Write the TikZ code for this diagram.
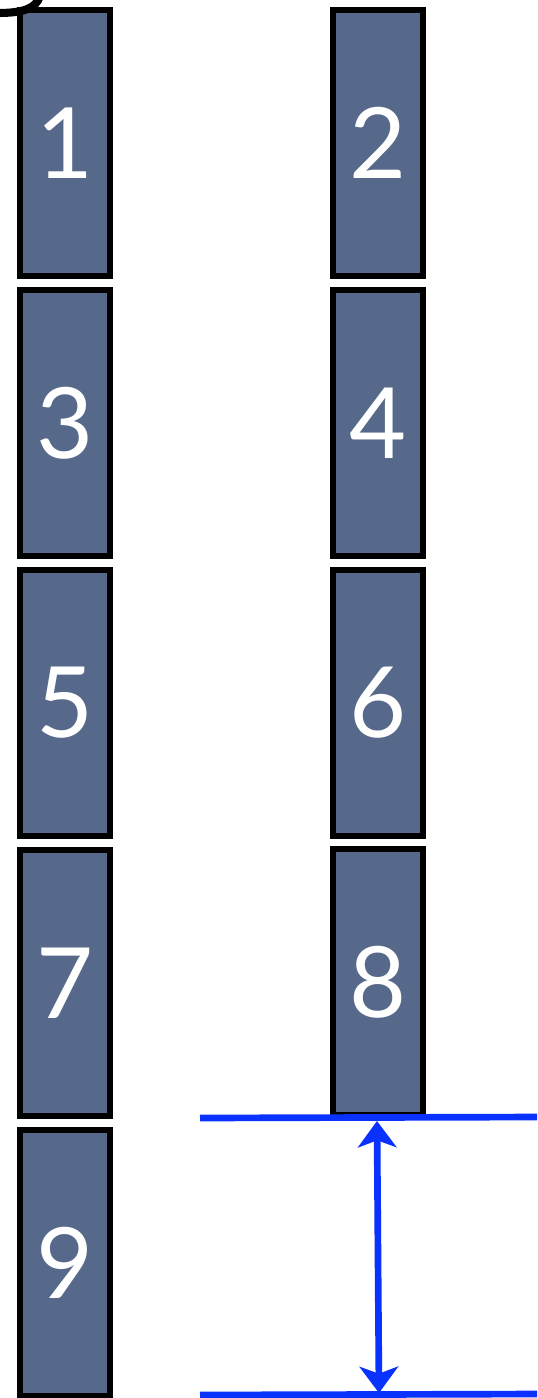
\documentclass[tikz,border=0pt]{standalone}
\usepackage{fontspec}
\setsansfont{Lato}
\usetikzlibrary{arrows.meta}
\definecolor{slab}{HTML}{56698A}
\definecolor{gapblue}{HTML}{0A32FF}

\begin{document}
\begin{tikzpicture}[x=0.02cm, y=-0.02cm,
		panel/.style={draw=black, line width=3.2pt, fill=slab, text=white,
			minimum width=1.80cm, minimum height=5.32cm, inner sep=0pt,
			font=\sffamily\fontsize{56}{56}\selectfont}]
				\useasboundingbox (0,0) rectangle (537,1398);
				\clip (0,0) rectangle (537,1398);
				% two columns of panels
				\foreach \n/\x/\y in {1/65/143, 2/378/143, 3/65/423, 4/378/423,
					5/65/703, 6/378/703, 7/65/983, 8/378/982, 9/65/1263}
					\node[panel] (p\n) at (\x,\y) {\n};
				% stray stroke in the corner
				\draw[line width=4.6pt] (-2,13) .. controls (22,13) and (36,9) .. (40,-4);
				\node[shape=coordinate] (top-l) at (200,1118) {};
				\node[shape=coordinate] (top-r) at (540,1117) {};
				\node[shape=coordinate] (bot-l) at (200,1395) {};
				\node[shape=coordinate] (bot-r) at (540,1394) {};
				\node[shape=coordinate] (a) at (377,1121) {};
				\node[shape=coordinate] (b) at (379,1393) {};
				\begin{scope}[gapblue, line width=3.8pt]
					\draw (top-l) -- (top-r);
					\draw (bot-l) -- (bot-r);
					\draw[{Stealth[length=15pt, width=22pt, inset=4pt]}-{Stealth[length=15pt, width=22pt, inset=4pt]}] (a) -- (b);
				\end{scope}
			\end{tikzpicture}
\end{document}
